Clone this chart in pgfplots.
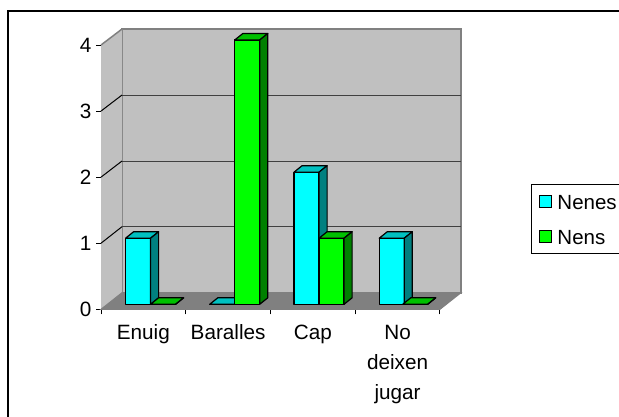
\documentclass[border=0pt]{standalone}
\usepackage{pgfplots}
\pgfplotsset{compat=1.18}
\usepackage{fontspec}
\setmainfont{Liberation Sans}
\definecolor{wall}{HTML}{C0C0C0}
\definecolor{floorc}{HTML}{808080}
\definecolor{cf}{HTML}{00FFFF}
\definecolor{ct}{HTML}{00C0C0}
\definecolor{cs}{HTML}{008080}
\definecolor{gf}{HTML}{00FF00}
\definecolor{gt}{HTML}{00C000}
\definecolor{gs}{HTML}{008000}
% front-left x (category units), value, front, top, side colours
\newcommand{\threedbar}[5]{%
  \addplot[forget plot,fill=#3,draw=black,line width=1.2pt,line join=round]
    coordinates {({#1},0.076) ({#1+0.295},0.076) ({#1+0.295},{#2+0.076}) ({#1},{#2+0.076})} --cycle;
  \addplot[forget plot,fill=#4,draw=black,line width=1.2pt,line join=round]
    coordinates {({#1},{#2+0.076}) ({#1+0.295},{#2+0.076}) ({#1+0.39},{#2+0.174}) ({#1+0.095},{#2+0.174})} --cycle;
  \addplot[forget plot,fill=#5,draw=black,line width=1.2pt,line join=round]
    coordinates {({#1+0.295},0.076) ({#1+0.39},0.174) ({#1+0.39},{#2+0.174}) ({#1+0.295},{#2+0.076})} --cycle;
}
\begin{document}
\begin{tikzpicture}[x=1pt,y=1pt]
\path[use as bounding box] (0,0) rectangle (619,416);
\draw[line width=2pt,black] (8,-50) -- (8,405) -- (700,405);
\begin{axis}[
  at={(101pt,106.7pt)},anchor=south west,
  scale only axis,width=339pt,height=264.3pt,
  xmin=0,xmax=4,ymin=0,ymax=4,
  clip=false,
  declare function={px(\x)=(\x-101)/84.75; py(\y)=(309.3-\y)/66.08;},
  axis x line=bottom,axis y line=left,
  axis line style={-,black,line width=1pt},
  tick align=outside,
  major tick length=5pt,
  tick style={black,line width=1pt},
  ytick={0,1,2,3,4},
  xtick={0,1,2,3,4},xticklabels={},
  extra x ticks={0.5,1.5,2.5,3.5},
  extra x tick labels={Enuig,Baralles,Cap,{No\\deixen\\jugar}},
  extra x tick style={major tick length=0pt,grid=none,
    tick label style={align=center,anchor=north,yshift=-12pt}},
  tick label style={font=\fontsize{20.7}{30}\selectfont},
  /pgf/number format/assume math mode=true,
  yticklabel style={xshift=-1pt},
  legend style={at={(axis cs:{px(531)},{py(184)})},anchor=north west,
    draw=black,line width=1pt,fill=white,
    font=\fontsize{20.5}{24}\selectfont,
    inner xsep=8pt,inner ysep=5pt,row sep=11pt,
    nodes={inner xsep=5pt,inner ysep=2pt,text width=90pt,text height=18pt,text depth=2pt}},
  legend cell align=left,
]
% walls and floor
\addplot[forget plot,fill=wall,draw=floorc,line width=2pt] coordinates {
  ({px(122)},{py(29)}) ({px(461)},{py(29)}) ({px(461)},{py(292.7)}) ({px(122)},{py(292.7)})} --cycle;
\addplot[forget plot,fill=wall,draw=none] coordinates {
  ({px(101)},{py(45)}) ({px(122)},{py(29)}) ({px(122)},{py(292.7)}) ({px(101)},{py(309.3)})} --cycle;
\addplot[forget plot,floorc,line width=1.5pt] coordinates {({px(101)},{py(45)}) ({px(122)},{py(29)})};
\addplot[forget plot,fill=floorc,draw=floorc,line width=1pt] coordinates {
  ({px(101)},{py(309.3)}) ({px(122)},{py(292.7)}) ({px(461)},{py(292.7)}) ({px(440)},{py(309.3)})} --cycle;
% gridlines
\addplot[forget plot,color=black!75,line width=1pt] coordinates {({px(122)},{py(226.7)}) ({px(461)},{py(226.7)})};
\addplot[forget plot,color=black!75,line width=1pt] coordinates {({px(122)},{py(161)}) ({px(461)},{py(161)})};
\addplot[forget plot,color=black!75,line width=1pt] coordinates {({px(122)},{py(95)}) ({px(461)},{py(95)})};
\addplot[forget plot,black,line width=1pt] coordinates {(0,1) ({px(122)},{py(226.7)})};
\addplot[forget plot,black,line width=1pt] coordinates {(0,2) ({px(122)},{py(161)})};
\addplot[forget plot,black,line width=1pt] coordinates {(0,3) ({px(122)},{py(95)})};
% bars: Nenes 1,0,2,1 ; Nens 0,4,1,0
\threedbar{0.29}{1}{cf}{ct}{cs}
\threedbar{0.585}{0}{gf}{gt}{gs}
\threedbar{1.283}{0}{cf}{ct}{cs}
\threedbar{1.578}{4}{gf}{gt}{gs}
\threedbar{2.278}{2}{cf}{ct}{cs}
\threedbar{2.573}{1}{gf}{gt}{gs}
\threedbar{3.283}{1}{cf}{ct}{cs}
\threedbar{3.56}{0}{gf}{gt}{gs}
\addlegendimage{legend image code/.code={\draw[fill=cf,draw=black,line width=1pt] (0pt,-6pt) rectangle (12pt,6pt);}}
\addlegendentry{Nenes}
\addlegendimage{legend image code/.code={\draw[fill=gf,draw=black,line width=1pt] (0pt,-6pt) rectangle (12pt,6pt);}}
\addlegendentry{Nens}
\end{axis}
\end{tikzpicture}
\end{document}
